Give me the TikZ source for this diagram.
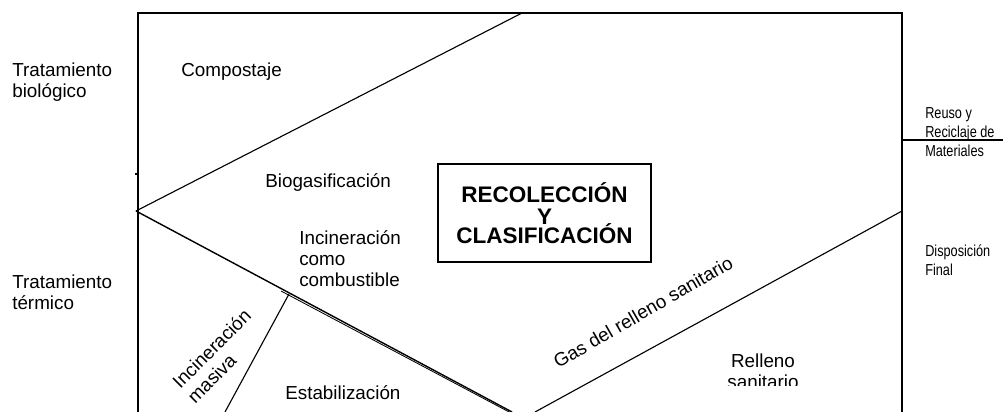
\documentclass[tikz,border=0pt]{standalone}
\usepackage{fontspec}
\setmainfont{Liberation Sans}
\newfontfamily\narrowfont[FakeStretch=0.8]{Liberation Sans}
\usetikzlibrary{positioning,calc}
\newcommand\tightlines{\lineskiplimit=-10pt\relax}

\tikzset{
  txt/.style={inner sep=0pt, align=left, font=\fontsize{13.4}{15}\selectfont},
  smalltxt/.style={inner sep=0pt, align=left, anchor=west, font=\narrowfont\fontsize{11.3}{13.5}\selectfont},
  mainbox/.style={draw, line width=0.8pt, minimum width=5.325cm, minimum height=2.45cm, align=center,
    font=\bfseries\fontsize{16}{14.9}\selectfont\tightlines},
  border/.style={line width=0.8pt}
}

\begin{document}
\begin{tikzpicture}[x=0.025cm, y=-0.025cm]
        \useasboundingbox (0,0) rectangle (1003,412);

        % frame and corners
        \coordinate (fbl) at (138,412);
        \coordinate (ftl) at (138,13);
        \coordinate (ftr) at (902,13);
        \coordinate (fbr) at (902,412);
        \draw[border] (fbl) -- (ftl) -- (ftr) -- (fbr);

        % dividing lines
        \coordinate (apex) at (136,211);
        \coordinate (topcut) at (522,13);
        \coordinate (botcut) at (512,412);
        \coordinate (landl) at (535,412);
        \coordinate (landr) at (902,211);
        \coordinate (masl) at (289,294);
        \coordinate (masb) at (225,412);
        \draw[border] (apex) -- (topcut);
        \draw[line width=1pt] (apex) -- (botcut);
        \draw[line width=0.6pt] ($(masl)+(-8,-3)$) -- ($(botcut)+(-1,1)$);
        \draw[border] (masl) -- (masb);
        \draw[border] (landl) -- (landr);
        \draw[border] (135,174) -- (138,174);

        % right side
        \coordinate (rout) at (1003,140);
        \draw[border] (902,140) -- (rout);
        \node[smalltxt] (reuso) at (925,132) {Reuso y\\Reciclaje de\\Materiales};
        \node[smalltxt] (dispo) at (925,260) {Disposición\\Final};

        % left side
        \node[txt, anchor=west] (tbio) at (12,82) {Tratamiento\\biológico};
        \node[txt, anchor=west] (tterm) at (12,292) {Tratamiento\\térmico};

        % regions
        \node[txt, anchor=west] (comp) at (181,72) {Compostaje};
        \node[txt, anchor=west] (biog) at (265,183) {Biogasificación};
        \node[txt, anchor=west] (incc) at (299,259) {Incineración\\como\\combustible};
        \node[txt, rotate=45] (incm) at (219,356) {Incineración\\masiva};
        \node[txt, anchor=west] (estab) at (285,393) {Estabilización};
        \node[txt, rotate=30] (gas) at (643,312) {Gas del relleno sanitario};
        \begin{scope}
          \clip (700,330) rectangle (830,385);
          \node[txt, align=center] (rell) at (763,371) {Relleno\\sanitario};
        \end{scope}

        \node[mainbox] (recol) at (544.5,213) {RECOLECCIÓN\\[1pt]Y\\[-1.5pt]CLASIFICACIÓN};
    \end{tikzpicture}
\end{document}
